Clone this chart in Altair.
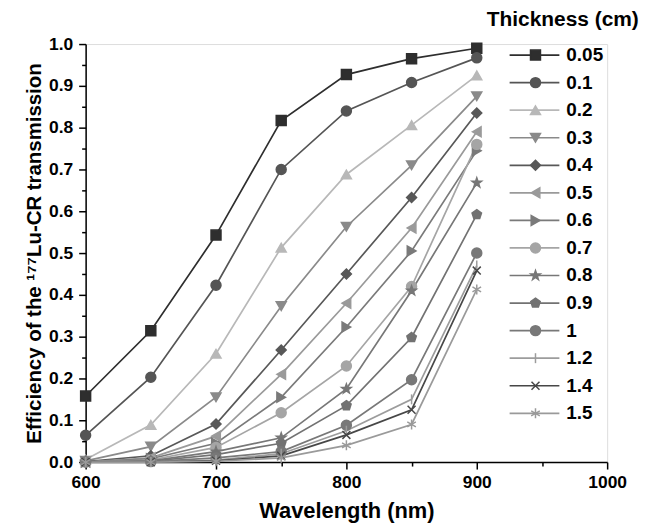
import altair as alt
import pandas as pd

wavelength = [600, 650, 700, 750, 800, 850, 900]
thickness = ["0.05", "0.1", "0.2", "0.3", "0.4", "0.5", "0.6", "0.7", "0.8", "0.9", "1", "1.2", "1.4", "1.5"]

eff_0_05 = [0.158, 0.314, 0.543, 0.817, 0.927, 0.965, 0.990]
eff_0_1 = [0.064, 0.203, 0.423, 0.700, 0.840, 0.908, 0.967]
eff_0_2 = [0.006, 0.089, 0.259, 0.513, 0.688, 0.806, 0.925]
eff_0_3 = [0.003, 0.037, 0.155, 0.373, 0.563, 0.710, 0.875]
eff_0_4 = [0.001, 0.015, 0.091, 0.268, 0.450, 0.633, 0.835]
eff_0_5 = [0.000, 0.010, 0.062, 0.210, 0.380, 0.560, 0.790]
eff_0_6 = [0.000, 0.008, 0.045, 0.155, 0.323, 0.505, 0.745]
eff_0_7 = [0.000, 0.005, 0.035, 0.118, 0.230, 0.420, 0.760]
eff_0_8 = [0.000, 0.003, 0.025, 0.058, 0.175, 0.410, 0.668]
eff_0_9 = [0.000, 0.002, 0.018, 0.045, 0.135, 0.298, 0.592]
eff_1_0 = [0.000, 0.001, 0.010, 0.025, 0.088, 0.197, 0.500]
eff_1_2 = [0.000, 0.000, 0.005, 0.020, 0.075, 0.150, 0.470]
eff_1_4 = [0.000, 0.000, 0.003, 0.015, 0.065, 0.125, 0.458]
eff_1_5 = [0.000, 0.000, 0.002, 0.010, 0.040, 0.090, 0.413]

series_values = [eff_0_05, eff_0_1, eff_0_2, eff_0_3, eff_0_4, eff_0_5, eff_0_6,
                 eff_0_7, eff_0_8, eff_0_9, eff_1_0, eff_1_2, eff_1_4, eff_1_5]

colors = ["#2e2e2e", "#555555", "#b8b8b8", "#8a8a8a", "#585858", "#9a9a9a", "#7a7a7a",
          "#a5a5a5", "#777777", "#727272", "#787878", "#9c9c9c", "#474747", "#9a9a9a"]

STAR = "M0,-1L0.235,-0.324L0.951,-0.309L0.380,0.124L0.588,0.809L0,0.4L-0.588,0.809L-0.380,0.124L-0.951,-0.309L-0.235,-0.324Z"
PENTAGON = "M0,-1L0.951,-0.309L0.588,0.809L-0.588,0.809L-0.951,-0.309Z"
VBAR = "M0,-1L0,1"
XMARK = "M-0.8,-0.8L0.8,0.8M0.8,-0.8L-0.8,0.8"
ASTER = "M0,-1L0,1M-0.866,-0.5L0.866,0.5M0.866,-0.5L-0.866,0.5"
shapes = ["square", "circle", "triangle-up", "triangle-down", "diamond", "triangle-left",
          "triangle-right", "circle", STAR, PENTAGON, "circle", VBAR, XMARK, ASTER]

rows = []
for t, vals in zip(thickness, series_values):
    for w, v in zip(wavelength, vals):
        rows.append({"thickness": t, "wavelength": w, "eff": v})
df = pd.DataFrame(rows)
leg = pd.DataFrame({"thickness": thickness, "idx": list(range(len(thickness)))})
title_df = pd.DataFrame({"t": ["Thickness (cm)"]})

FONT = "Liberation Sans"
color_scale = alt.Scale(domain=thickness, range=colors)
shape_scale = alt.Scale(domain=thickness, range=shapes)

x_enc = alt.X(
    "wavelength:Q",
    scale=alt.Scale(domain=[600, 1000], nice=False),
    axis=alt.Axis(
        title="Wavelength (nm)",
        values=list(range(600, 1001, 50)),
        format="d",
        labelExpr="datum.value % 100 == 0 ? datum.label : ''",
        tickSize={"condition": {"test": "datum.value % 100 == 0", "value": 7}, "value": 4},
        grid=False, domainColor="black", tickColor="black", domainWidth=1.5, tickWidth=1.5,
        labelFont=FONT, labelFontSize=17.5, labelFontWeight="bold", labelColor="black",
        labelFlush=False, labelOverlap=False,
        titleFont=FONT, titleFontSize=22, titleFontWeight="bold", titleColor="black",
        labelPadding=5, titlePadding=9,
    ),
)
y_enc = alt.Y(
    "eff:Q",
    scale=alt.Scale(domain=[0, 1.0], nice=False),
    axis=alt.Axis(
        title="Efficiency of the \u00b9\u2077\u2077Lu-CR transmission",
        values=[round(i * 0.05, 2) for i in range(21)],
        labelExpr="round(datum.value*100) % 10 == 0 ? format(datum.value, '.1f') : ''",
        tickSize={"condition": {"test": "round(datum.value*100) % 10 == 0", "value": 7}, "value": 4},
        grid=False, domainColor="black", tickColor="black", domainWidth=1.5, tickWidth=1.5,
        labelFont=FONT, labelFontSize=17.5, labelFontWeight="bold", labelColor="black",
        labelFlush=False, labelOverlap=False,
        titleFont=FONT, titleFontSize=20.5, titleFontWeight="bold", titleColor="black",
        labelPadding=6, titlePadding=4,
    ),
)

base = alt.Chart(df)
lines = base.mark_line(strokeWidth=1.7).encode(
    x=x_enc, y=y_enc,
    color=alt.Color("thickness:N", scale=color_scale, legend=None),
    detail="thickness:N",
)
points = base.mark_point(filled=True, size=100, opacity=1, strokeWidth=1.5).encode(
    x=x_enc, y=y_enc,
    fill=alt.Fill("thickness:N", scale=color_scale, legend=None),
    stroke=alt.Stroke("thickness:N", scale=color_scale, legend=None),
    shape=alt.Shape("thickness:N", scale=shape_scale, legend=None),
)
main = alt.layer(lines, points)

leg_y = alt.Y("idx:Q", scale=alt.Scale(domain=[-0.4, 14.77], reverse=True, nice=False, zero=False), axis=None)
leg_lines = alt.Chart(leg).mark_rule(strokeWidth=1.7).encode(
    x=alt.value(426), x2=alt.value(476), y=leg_y,
    color=alt.Color("thickness:N", scale=color_scale, legend=None),
)
leg_points = alt.Chart(leg).mark_point(filled=True, size=100, opacity=1, strokeWidth=1.5).encode(
    x=alt.value(452), y=leg_y,
    fill=alt.Fill("thickness:N", scale=color_scale, legend=None),
    stroke=alt.Stroke("thickness:N", scale=color_scale, legend=None),
    shape=alt.Shape("thickness:N", scale=shape_scale, legend=None),
)
leg_text = alt.Chart(leg).mark_text(align="left", baseline="middle", font=FONT, fontSize=19,
                                    fontWeight="bold", color="black").encode(
    x=alt.value(483), y=leg_y, text="thickness:N",
)
leg_title = alt.Chart(title_df).mark_text(align="left", baseline="middle", font=FONT, fontSize=21,
                                          fontWeight="bold", color="black").encode(
    x=alt.value(403), y=alt.value(-24), text="t:N",
)
legend = alt.layer(leg_lines, leg_points, leg_text, leg_title)

chart = alt.layer(main, legend).resolve_scale(
    y="independent"
).properties(
    width=524, height=420,
    padding={"left": 16, "top": 0, "right": 0, "bottom": 0},
).configure_view(stroke=None).configure(background="white")

chart.save("out.html", embed_options={"renderer": "svg", "actions": False})
